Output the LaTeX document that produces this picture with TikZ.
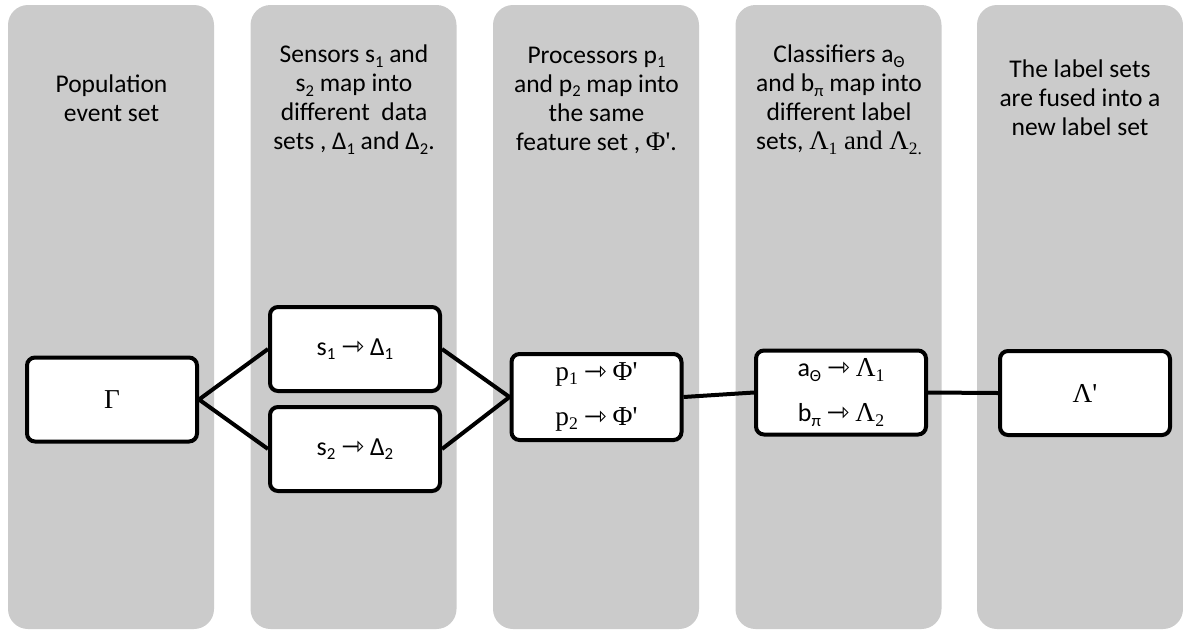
\documentclass[tikz,border=0pt]{standalone}
\usepackage{fontspec}
\setmainfont{Carlito}
\newfontfamily\cambria[Ligatures=TeXOff,Scale=1.05]{Liberation Serif}
\newfontfamily\arrowfont[Scale=1.05]{DejaVu Sans}
\newcommand\lo[1]{\raisebox{-0.35ex}{\scalebox{0.65}{#1}}}
\newcommand\mapsarrow{\ {\arrowfont ⇾}\ }
\definecolor{lanegray}{HTML}{CBCBCB}
\begin{document}
\begin{tikzpicture}[x=1pt,y=-1pt,
		lane/.style={fill=lanegray,rounded corners=20pt},
		lanetext/.style={align=center,anchor=north,inner sep=0pt,font=\fontsize{25.5}{29}\selectfont},
		mapbox/.style={draw,fill=white,line width=4pt,rounded corners=8pt,minimum width=170pt,minimum height=84pt,inner sep=0pt,align=center,font=\fontsize{26}{45}\selectfont},
		link/.style={line width=4pt}]
		\useasboundingbox (0,0) rectangle (1183,630);
		% background lanes
		\foreach \x in {8,250.5,493,735.5,977} \fill[lane] (\x,5) rectangle ++(206,624);
		\node[lanetext] (popText) at (111.5,74.5) {Population\\event set};
		\node[lanetext] (sensText) at (354,45) {Sensors s\lo{1} and\\s\lo{2} map into\\different\ \ data\\sets , Δ\lo{1} and Δ\lo{2}.};
		\node[lanetext] (procText) at (596.5,46.5) {Processors p\lo{1}\\and p\lo{2} map into\\the same\\feature set , {\cambria Φ'}.};
		\node[lanetext] (clfText) at (839,45) {Classifiers a\lo{Θ}\\and b\lo{π} map into\\different label\\sets, {\cambria Λ\lo{1} and Λ\lo{2.}}};
		\node[lanetext] (fuseText) at (1080,59.5) {The label sets\\are fused into a\\new label set};
		% mapping boxes
		\node[mapbox] (gamma) at (112,399.5) {\cambria Γ};
		\node[mapbox] (sens1) at (355,349) {s\lo{1}\mapsarrow Δ\lo{1}};
		\node[mapbox] (sens2) at (355,449) {s\lo{2}\mapsarrow Δ\lo{2}};
		\node[mapbox,minimum height=86pt] (proc) at (596.5,397) {{\cambria p\lo{1}}\mapsarrow{\cambria Φ'}\\{\cambria p\lo{2}}\mapsarrow{\cambria Φ'}};
		\node[mapbox] (clf) at (841,392.5) {a\lo{Θ}\mapsarrow{\cambria Λ\lo{1}}\\b\lo{π}\mapsarrow{\cambria Λ\lo{2}}};
		\node[mapbox] (fused) at (1085,393) {\cambria Λ'};
		\draw[link] (sens1.west) -- (gamma.east) -- (sens2.west);
		\draw[link] (sens1.east) -- (proc.west) -- (sens2.east);
		\draw[link] (proc.east) -- (clf.west);
		\draw[link] (clf.east) -- (fused.west);
\end{tikzpicture}
\end{document}
